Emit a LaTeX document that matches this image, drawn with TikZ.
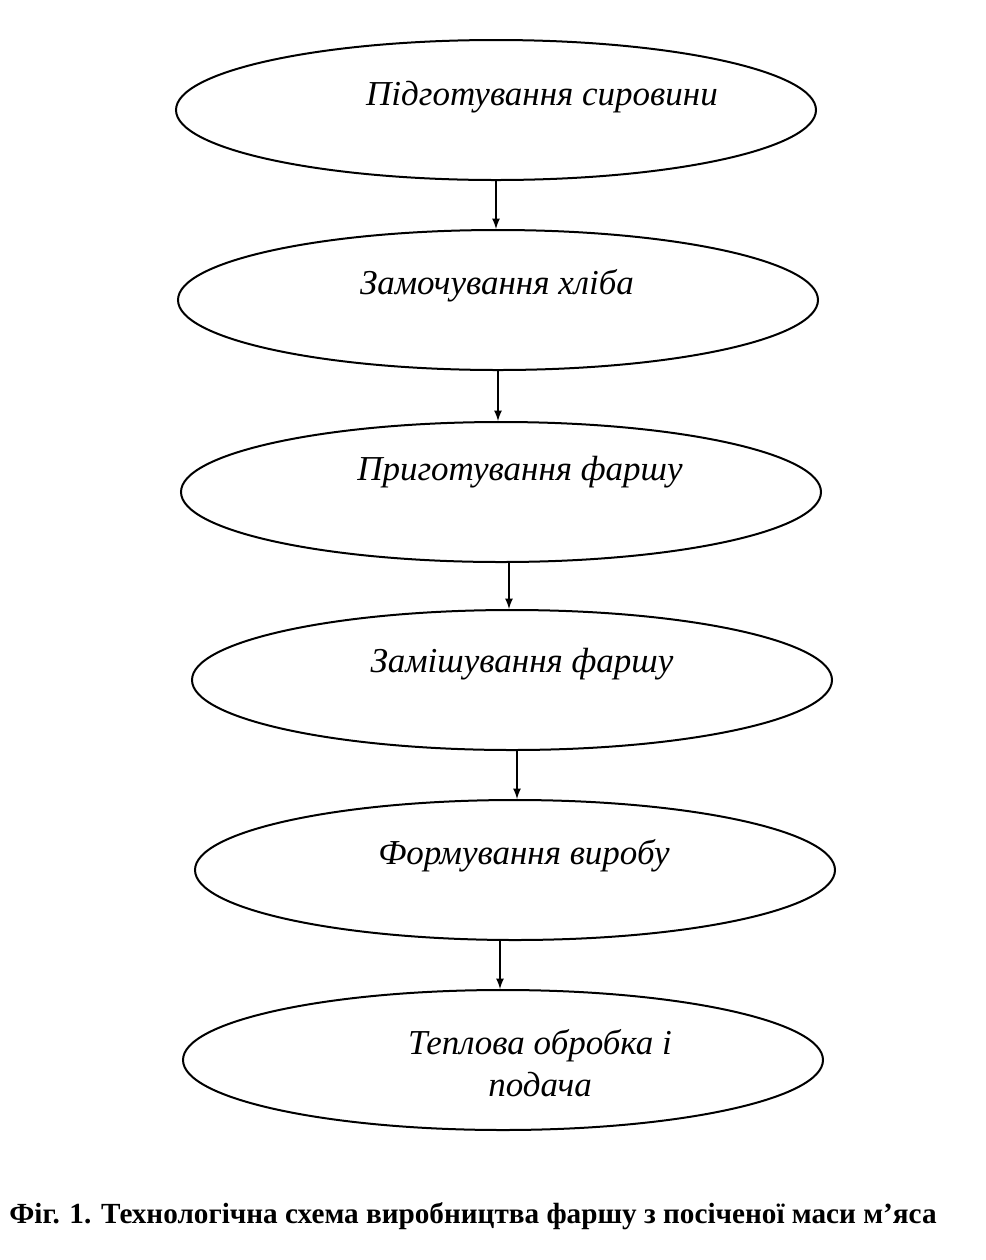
\documentclass[tikz,border=0pt]{standalone}
\usepackage{fontspec}
\setmainfont{Liberation Serif}
\usetikzlibrary{arrows,shapes.geometric}
\begin{document}
\begin{tikzpicture}[x=0.5pt,y=-0.5pt]
    % Define Styles
        \tikzstyle{stage} = [ellipse, draw, line width=0.1em, minimum width=320pt, minimum height=70pt, inner sep=0pt]
        \tikzstyle{caption} = [font=\fontsize{17.5}{21}\selectfont\itshape, align=center]
        \tikzstyle{line} = [draw, -latex, line width=0.08em]
        \useasboundingbox (0,0) rectangle (986,1260);
    % Place nodes
        \node [stage] (raw) at (496,110) {};
        \node [stage] (bread) at (498,300) {};
        \node [stage] (mince) at (501,492) {};
        \node [stage] (mix) at (512,680) {};
        \node [stage] (form) at (515,870) {};
        \node [stage] (heat) at (503,1060) {};
        \node [caption] (rawtext) at (542,97) {Підготування сировини};
        \node [caption] (breadtext) at (497,286) {Замочування хліба};
        \node [caption] (mincetext) at (520,472) {Приготування фаршу};
        \node [caption] (mixtext) at (522,664) {Замішування фаршу};
        \node [caption] (formtext) at (524,856) {Формування виробу};
        \node [caption] (heattext) at (540,1063) {Теплова обробка і\\подача};
        \node [font=\fontsize{14.6}{17}\selectfont\bfseries] (title) at (473,1216) {Фіг. 1. Технологічна схема виробництва фаршу з посіченої маси м\symbol{39}яса};
    % Edges
        \draw[line] (raw.south) -- (bread.north -| raw.south);
        \draw[line] (bread.south) -- (mince.north -| bread.south);
        \draw[line] (mince.south) ++(8,0) coordinate (a) -- (a |- mix.north);
        \draw[line] (mix.south) ++(5,0) coordinate (b) -- (b |- form.north);
        \draw[line] (form.south) ++(-15,0) coordinate (c) -- (c |- heat.north);
\end{tikzpicture}
\end{document}
